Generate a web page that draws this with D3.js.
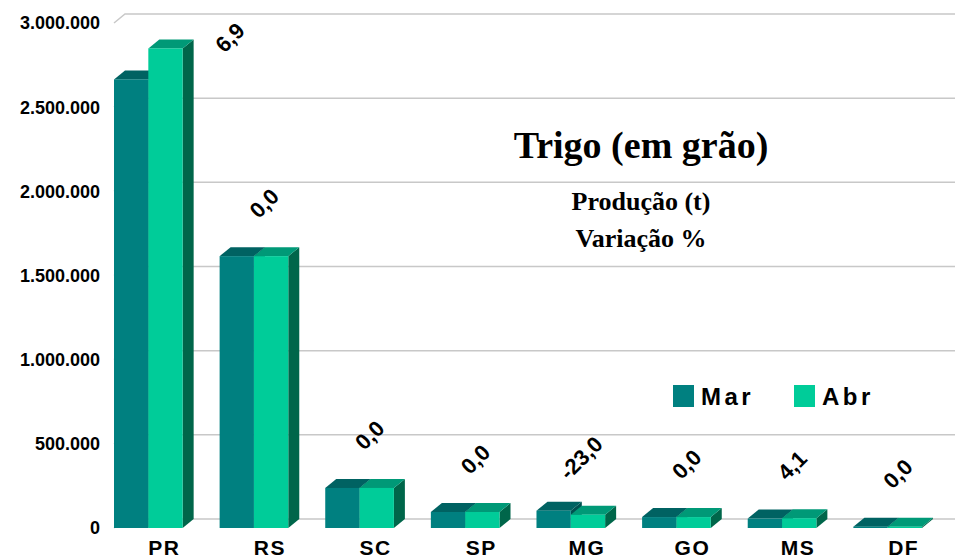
<!DOCTYPE html>
<html>
<head>
<meta charset="utf-8">
<script src="https://cdn.jsdelivr.net/npm/d3@7"></script>
<style>
  body { margin: 0; background: #fff; }
  text { font-family: "Liberation Sans", Arial, sans-serif; font-weight: bold; fill: #000; }
  .serif { font-family: "Liberation Serif", "Times New Roman", serif; }
</style>
</head>
<body>
<script type="text/javascript">

  // data
  var categories = ["PR", "RS", "SC", "SP", "MG", "GO", "MS", "DF"];
  var seriesNames = ["Mar", "Abr"];
  var mar = [2665000, 1615000, 238000, 95000, 103000, 65000, 56000, 8000];
  var abr = [2849000, 1615000, 238000, 95000, 79300, 65000, 58300, 8000];
  var variacao = ["6,9", "0,0", "0,0", "0,0", "-23,0", "0,0", "4,1", "0,0"];
  var yTicks = [0, 500000, 1000000, 1500000, 2000000, 2500000, 3000000];

  var w = 955, h = 560;
  var dx = 11, dy = -9;   // depth of the 3d bars

  var colors = {
    Mar: {front: "#008080", top: "#006262", side: "#005050"},
    Abr: {front: "#00cc99", top: "#009977", side: "#00664a"}
  };

  var fmt = d3.formatLocale({decimal: ",", thousands: ".", grouping: [3], currency: ["", ""]}).format(",");

  var svg = d3.select("body").append("svg")
      .attr("width", w)
      .attr("height", h);

  var x = d3.scaleBand().domain(categories).range([114, 922]).paddingInner(0.35).paddingOuter(0);
  var xs = d3.scaleBand().domain(seriesNames).range([0, x.bandwidth()]);
  var y = d3.scaleLinear().domain([0, 3000000]).range([528, 23]);

  // back wall grid
  var grid = svg.append("g");
  yTicks.forEach(function(t) {
    grid.append("path")
      .attr("d", "M" + x.range()[0] + "," + y(t) + "L" + (x.range()[0] + dx) + "," + (y(t) + dy) + "L" + (w + 5) + "," + (y(t) + dy))
      .attr("fill", "none")
      .attr("stroke", "#c8c8c8")
      .attr("stroke-width", 1.5);
  });

  // y labels
  svg.append("g").selectAll("text")
    .data(yTicks)
    .enter().append("text")
      .attr("x", 100)
      .attr("y", function(d) { return y(d); })
      .attr("dy", "0.36em")
      .attr("text-anchor", "end")
      .style("font-size", "18px")
      .text(function(d) { return fmt(d); });

  // bars
  var rows = categories.map(function(c, i) {
    return {cat: c, values: [{s: "Mar", v: mar[i]}, {s: "Abr", v: abr[i]}], label: variacao[i]};
  });

  var groups = svg.append("g").selectAll("g")
    .data(rows)
    .enter().append("g");

  groups.each(function(d) {
    var g = d3.select(this);
    d.values.forEach(function(b) {
      var x0 = x(d.cat) + xs(b.s), x1 = x0 + xs.bandwidth();
      var yt = y(b.v), yb = y(0);
      var c = colors[b.s];
      // side
      g.append("path")
        .attr("d", "M" + x1 + "," + yt + "L" + (x1 + dx) + "," + (yt + dy) + "L" + (x1 + dx) + "," + (yb + dy) + "L" + x1 + "," + yb + "Z")
        .attr("fill", c.side);
      // top
      g.append("path")
        .attr("d", "M" + x0 + "," + yt + "L" + (x0 + dx) + "," + (yt + dy) + "L" + (x1 + dx) + "," + (yt + dy) + "L" + x1 + "," + yt + "Z")
        .attr("fill", c.top);
      // front
      g.append("rect")
        .attr("x", x0)
        .attr("y", yt)
        .attr("width", xs.bandwidth())
        .attr("height", yb - yt)
        .attr("fill", c.front);
    });
  });

  // variation labels
  groups.append("text")
    .attr("transform", function(d) {
      var top = y(d3.max(d.values, function(b) { return b.v; })) + dy;
      var cx = x(d.cat) + x.bandwidth() / 2 + 10, cy = top - 44;
      if (cy < 30) {   // no room above the bar: put it on the right side
        cx = x(d.cat) + x.bandwidth() + 47;
        cy = y(d.values[1].v) - 11;
      }
      return "translate(" + cx + "," + cy + ") rotate(-45)";
    })
    .attr("text-anchor", "middle")
    .attr("dy", "0.36em")
    .style("font-size", "22px")
    .text(function(d) { return d.label; });

  // category labels
  svg.append("g").selectAll("text")
    .data(categories)
    .enter().append("text")
      .attr("x", function(d) { return x(d) + x.bandwidth() / 2 + 16; })
      .attr("y", 555)
      .attr("text-anchor", "middle")
      .style("font-size", "21px")
      .style("letter-spacing", "1.5px")
      .text(function(d) { return d; });

  // title
  svg.append("text")
    .attr("class", "serif")
    .attr("x", 641)
    .attr("y", 158)
    .attr("text-anchor", "middle")
    .style("font-size", "38px")
    .text("Trigo (em grão)");

  svg.append("text")
    .attr("class", "serif")
    .attr("x", 641)
    .attr("y", 210)
    .attr("text-anchor", "middle")
    .style("font-size", "26px")
    .text("Produção (t)");

  svg.append("text")
    .attr("class", "serif")
    .attr("x", 641)
    .attr("y", 247)
    .attr("text-anchor", "middle")
    .style("font-size", "26px")
    .text("Variação %");

  // legend
  var legend = svg.append("g").selectAll("g")
    .data(seriesNames)
    .enter().append("g")
      .attr("transform", function(d, i) { return "translate(" + (673 + i * 121) + ",385)"; });

  legend.append("rect")
    .attr("width", 21)
    .attr("height", 22)
    .attr("fill", function(d) { return colors[d].front; });

  legend.append("text")
    .attr("x", 28)
    .attr("y", 20)
    .style("font-size", "24px")
    .style("letter-spacing", "3.5px")
    .text(function(d) { return d; });

</script>
</body>
</html>
